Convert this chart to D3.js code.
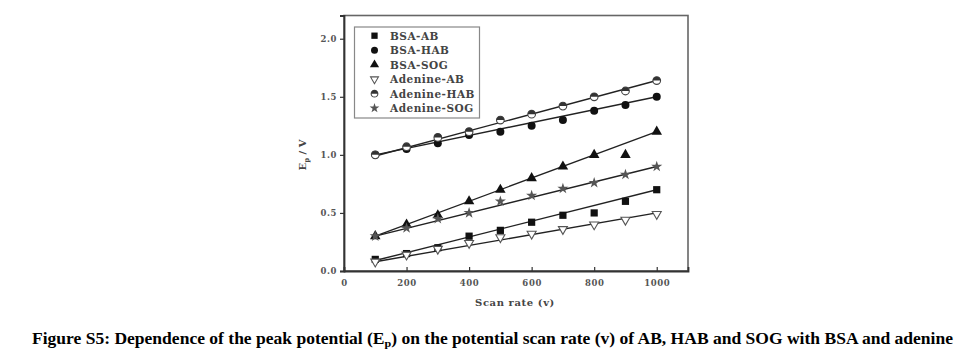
<!DOCTYPE html>
<html>
<head>
<meta charset="utf-8">
<script src="https://cdn.jsdelivr.net/npm/d3@7"></script>
<style>
  body { margin: 0; background: #fff; }
  svg { display: block; }
</style>
</head>
<body>
<div id="chart"></div>
<script>
// scan rates (x values)
var scanRates = [100, 200, 300, 400, 500, 600, 700, 800, 900, 1000];

// peak potentials, V
var bsaAB      = [0.10, 0.15, 0.20, 0.30, 0.35, 0.42, 0.48, 0.50, 0.60, 0.70];
var bsaHAB     = [1.00, 1.05, 1.10, 1.17, 1.20, 1.25, 1.30, 1.38, 1.43, 1.50];
var bsaSOG     = [0.30, 0.40, 0.48, 0.60, 0.70, 0.80, 0.90, 1.00, 1.00, 1.20];
var adenineAB  = [0.08, 0.14, 0.19, 0.24, 0.29, 0.32, 0.36, 0.40, 0.44, 0.49];
var adenineHAB = [1.00, 1.07, 1.15, 1.20, 1.30, 1.35, 1.42, 1.50, 1.55, 1.64];
var adenineSOG = [0.30, 0.37, 0.45, 0.50, 0.60, 0.65, 0.71, 0.76, 0.83, 0.90];

// fitted lines: value at first and last scan rate
var fitStart = [0.09, 1.00, 0.30, 0.08, 0.99, 0.30];
var fitEnd   = [0.70, 1.50, 1.20, 0.50, 1.64, 0.90];

var seriesNames = ["BSA-AB", "BSA-HAB", "BSA-SOG", "Adenine-AB", "Adenine-HAB", "Adenine-SOG"];
var seriesValues = [bsaAB, bsaHAB, bsaSOG, adenineAB, adenineHAB, adenineSOG];

var xTicks = [0, 200, 400, 600, 800, 1000];
var yTicks = [0.0, 0.5, 1.0, 1.5, 2.0];

var width = 979, height = 360;
var plotL = 344, plotR = 688, plotT = 15.5, plotB = 271;

var svg = d3.select("#chart").append("svg")
    .attr("width", width)
    .attr("height", height);

var x = d3.scaleLinear().domain([0, 1100]).range([plotL, plotR]);
var y = d3.scaleLinear().domain([0, 2.2]).range([plotB, plotT]);

var tickFont = "'DejaVu Serif', serif";

// frame
svg.append("rect")
    .attr("x", plotL).attr("y", plotT)
    .attr("width", plotR - plotL).attr("height", plotB - plotT)
    .attr("fill", "none")
    .attr("stroke", "#666")
    .attr("stroke-width", 1.6);

// axes
var xAxis = svg.append("g")
    .attr("transform", "translate(0," + plotB + ")")
    .call(d3.axisBottom(x).tickValues(xTicks).tickSize(-4).tickPadding(9).tickFormat(d3.format("d")));

var yAxis = svg.append("g")
    .attr("transform", "translate(" + plotL + ",0)")
    .call(d3.axisLeft(y).tickValues(yTicks).tickSize(4).tickPadding(3).tickFormat(d3.format(".1f")));

[xAxis, yAxis].forEach(function (g) {
    g.select(".domain").attr("stroke", "#333").attr("stroke-width", 1.8);
    g.selectAll(".tick line").attr("stroke", "#333").attr("stroke-width", 1.2);
    g.selectAll(".tick text")
        .attr("font-family", tickFont)
        .attr("font-weight", "bold")
        .attr("font-size", "8.5px")
        .attr("letter-spacing", "0.6px")
        .attr("fill", "#555");
});

// fit lines
var line = d3.line().x(d => x(d[0])).y(d => y(d[1]));
seriesNames.forEach(function (name, i) {
    svg.append("path")
        .datum([[scanRates[0], fitStart[i]], [scanRates[scanRates.length - 1], fitEnd[i]]])
        .attr("d", line)
        .attr("fill", "none")
        .attr("stroke", "#222")
        .attr("stroke-width", 1.4);
});

// marker drawing
function drawMarker(g, i, size) {
    var s = size;
    if (i === 0) {
        g.append("rect").attr("x", -s * 0.45).attr("y", -s * 0.45)
            .attr("width", s * 0.9).attr("height", s * 0.9).attr("fill", "#111");
    } else if (i === 1) {
        g.append("circle").attr("r", s * 0.5).attr("fill", "#111");
    } else if (i === 2) {
        g.append("path").attr("d", d3.symbol().type(d3.symbolTriangle).size(s * s * 0.75)())
            .attr("fill", "#111");
    } else if (i === 3) {
        g.append("path").attr("d", d3.symbol().type(d3.symbolTriangle).size(s * s * 0.55)())
            .attr("transform", "rotate(180)")
            .attr("fill", "#fff").attr("stroke", "#555").attr("stroke-width", 1.1);
    } else if (i === 4) {
        g.append("circle").attr("r", s * 0.48).attr("fill", "#fff")
            .attr("stroke", "#444").attr("stroke-width", 1.1);
        var r = s * 0.48;
        g.append("path").attr("d", "M" + (-r) + ",0 A" + r + "," + r + " 0 0 1 " + r + ",0 Z")
            .attr("fill", "#333");
    } else {
        g.append("path").attr("d", d3.symbol().type(d3.symbolStar).size(s * s * 0.6)())
            .attr("fill", "#555");
    }
}

// data points
seriesValues.forEach(function (vals, i) {
    vals.forEach(function (v, j) {
        var g = svg.append("g")
            .attr("transform", "translate(" + x(scanRates[j]) + "," + y(v) + ")");
        drawMarker(g, i, 8);
    });
});

// legend
var lgX = 354.5, lgY = 27, lgW = 125, lgH = 91;
svg.append("rect")
    .attr("x", lgX).attr("y", lgY).attr("width", lgW).attr("height", lgH)
    .attr("fill", "#fff").attr("stroke", "#888").attr("stroke-width", 1.2);

seriesNames.forEach(function (name, i) {
    var cy = 35.7 + i * 14.5;
    var g = svg.append("g").attr("transform", "translate(374.5," + cy + ")");
    drawMarker(g, i, 7);
    svg.append("text")
        .attr("x", 390).attr("y", cy + 3.8)
        .attr("font-family", tickFont)
        .attr("font-weight", "bold")
        .attr("font-size", "10.5px")
        .attr("letter-spacing", "0.5px")
        .attr("fill", "#444")
        .text(name);
});

// axis titles
svg.append("text")
    .attr("x", 515).attr("y", 306)
    .attr("text-anchor", "middle")
    .attr("font-family", tickFont)
    .attr("font-weight", "bold")
    .attr("font-size", "10px")
    .attr("letter-spacing", "0.6px")
    .attr("fill", "#444")
    .text("Scan rate (v)");

var yt = svg.append("text")
    .attr("transform", "translate(306,155) rotate(-90)")
    .attr("text-anchor", "middle")
    .attr("font-family", tickFont)
    .attr("font-weight", "bold")
    .attr("font-size", "10px")
    .attr("fill", "#444");
yt.append("tspan").text("E");
yt.append("tspan").attr("font-size", "7px").attr("dy", 2.5).text("p");
yt.append("tspan").attr("dy", -2.5).text(" / V");

// caption
var cap = svg.append("text")
    .attr("x", 32).attr("y", 343.5)
    .attr("font-family", "'Liberation Serif', serif")
    .attr("font-weight", "bold")
    .attr("font-size", "16px")
    .attr("textLength", 921)
    .attr("lengthAdjust", "spacingAndGlyphs")
    .attr("fill", "#000");
cap.append("tspan").text("Figure S5: Dependence of the peak potential (E");
cap.append("tspan").attr("font-size", "11px").attr("dy", 3).text("p");
cap.append("tspan").attr("dy", -3).text(") on the potential scan rate (v) of AB, HAB and SOG with BSA and adenine");
</script>
</body>
</html>
